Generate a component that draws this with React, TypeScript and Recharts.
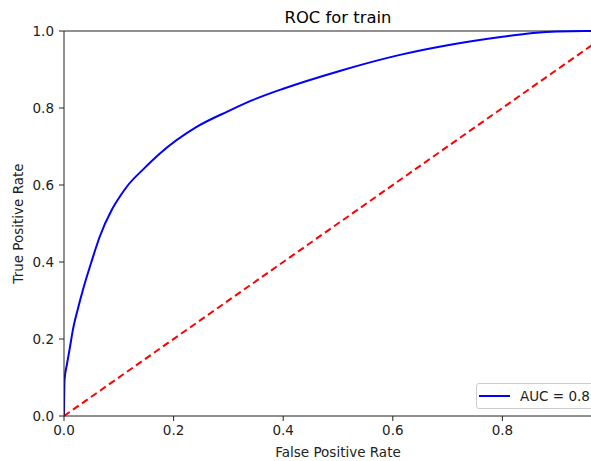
import { LineChart, Line, XAxis, YAxis, ReferenceLine } from 'recharts';

// ROC curve points
const fpr = [0, 0.001, 0.0055, 0.0104, 0.0164, 0.0256, 0.035, 0.05, 0.065, 0.087, 0.102, 0.117, 0.144, 0.175, 0.242, 0.3, 0.345, 0.4, 0.5, 0.613, 0.7, 0.8, 0.856, 0.9, 0.95, 1.0];
const tpr = [0, 0.094, 0.135, 0.175, 0.225, 0.28, 0.33, 0.4, 0.465, 0.535, 0.57, 0.6, 0.64, 0.682, 0.751, 0.792, 0.821, 0.85, 0.895, 0.938, 0.963, 0.985, 0.995, 0.999, 1.0, 1.0];
const chanceX = [0, 1];
// the 1.0 x tick falls outside the cropped picture
const xTicks = [0, 0.2, 0.4, 0.6, 0.8];
const yTicks = [0, 0.2, 0.4, 0.6, 0.8, 1.0];
const aucLabel = 'AUC = 0.85';
const title = 'ROC for train';

const rocData = fpr.map((x, i) => ({ x, y: tpr[i] }));
const chanceData = chanceX.map((x) => ({ x, y: x }));

const FONT = '"DejaVu Sans", sans-serif';
const INK = '#222';

function RocLegend() {
  return (
    <div
      style={{
        position: 'absolute',
        left: 476,
        top: 383,
        display: 'flex',
        alignItems: 'center',
        height: 24,
        border: '1px solid #cccccc',
        borderRadius: 3,
        background: 'rgba(255,255,255,0.8)',
        paddingLeft: 2,
        paddingRight: 7,
        fontFamily: FONT,
        fontSize: 13.5,
        color: INK,
        whiteSpace: 'nowrap',
      }}
    >
      <svg width={31} height={4} style={{ display: 'block' }}>
        <line x1={0} y1={2} x2={31} y2={2} stroke="#0000ff" strokeWidth={2} />
      </svg>
      <span style={{ marginLeft: 10 }}>{aucLabel}</span>
    </div>
  );
}

export default function App() {
  return (
    <div style={{ position: 'fixed', left: 0, top: 0, width: 591, height: 461, overflow: 'hidden', background: '#fff' }}>
      <LineChart width={620} height={461} margin={{ top: 31, right: 8, left: 0, bottom: 0 }}>
        <XAxis
          dataKey="x"
          type="number"
          domain={[0, 1]}
          ticks={xTicks}
          tickFormatter={(v: number) => v.toFixed(1)}
          height={45}
          stroke={INK}
          tickSize={5}
          tickMargin={4}
          tick={{ fill: INK, fontSize: 13.5, fontFamily: FONT }}
          allowDataOverflow
          label={{
            content: (props: any) => {
              const vb = props.viewBox;
              return (
                <text x={vb.x + vb.width / 2} y={vb.y + 41} textAnchor="middle" fill={INK} fontSize={13.5} fontFamily={FONT}>
                  False Positive Rate
                </text>
              );
            },
          }}
        />
        <YAxis
          dataKey="y"
          type="number"
          domain={[0, 1]}
          ticks={yTicks}
          tickFormatter={(v: number) => v.toFixed(1)}
          width={64}
          stroke={INK}
          tickSize={5}
          tickMargin={5}
          tick={{ fill: INK, fontSize: 13.5, fontFamily: FONT }}
          label={{
            content: (props: any) => {
              const vb = props.viewBox;
              const cy = vb.y + vb.height / 2;
              return (
                <text x={23} y={cy} transform={`rotate(-90, 23, ${cy})`} textAnchor="middle" fill={INK} fontSize={13.5} fontFamily={FONT}>
                  True Positive Rate
                </text>
              );
            },
          }}
        />
        <ReferenceLine
          y={1}
          stroke={INK}
          label={{ value: title, position: 'top', offset: 8, fill: '#000', fontSize: 16.4, fontFamily: FONT }}
        />
        <ReferenceLine x={1} stroke={INK} />
        <Line
          data={rocData}
          dataKey="y"
          type="monotone"
          stroke="#0000ff"
          strokeWidth={2}
          dot={false}
          isAnimationActive={false}
        />
        <Line
          data={chanceData}
          dataKey="y"
          type="linear"
          stroke="#ff0000"
          strokeWidth={2}
          strokeDasharray="7 4"
          dot={false}
          isAnimationActive={false}
        />
      </LineChart>
      <RocLegend />
    </div>
  );
}
